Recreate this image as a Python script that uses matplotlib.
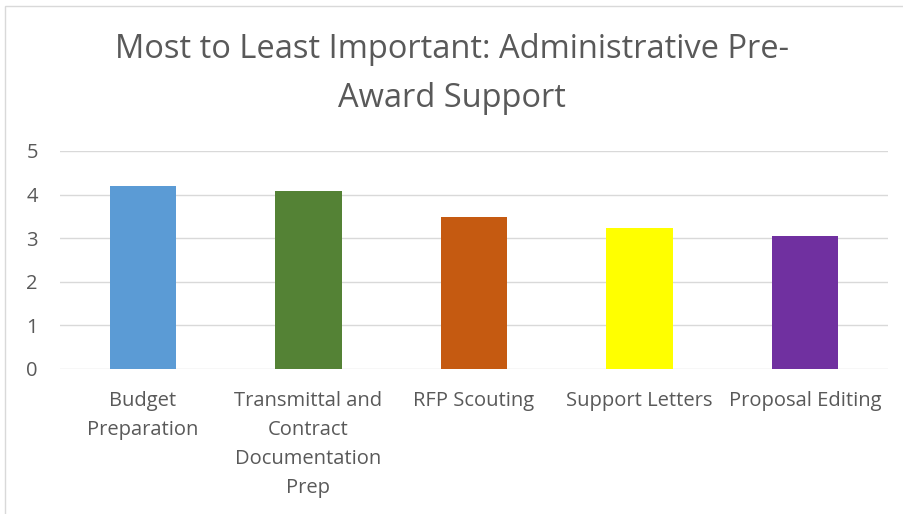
import matplotlib.pyplot as plt
from matplotlib.patches import Rectangle

categories = ["Budget\nPreparation", "Transmittal and\nContract\nDocumentation\nPrep",
              "RFP Scouting", "Support Letters", "Proposal Editing"]
scores = [4.2, 4.08, 3.48, 3.23, 3.05]
bar_colors = ["#5B9BD5", "#548235", "#C55A11", "#FFFF00", "#7030A0"]
title = "Most to Least Important: Administrative Pre-\nAward Support"

plt.rcParams['font.family'] = ['Open Sans', 'DejaVu Sans']

fig = plt.figure(figsize=(9.04, 5.14), dpi=100)
W, H = 904, 514

# outer chart border (only left and top edges visible in the crop)
fig.patches.append(Rectangle((5 / W, -0.1), 1.2, (H - 6) / H + 0.1,
                             transform=fig.transFigure, fill=False,
                             edgecolor="#d9d9d9", linewidth=1.0))

ax = fig.add_axes([60 / W, (H - 369) / H, 828 / W, 218 / H])
x = range(len(categories))
ax.bar(x, scores, width=0.4, color=bar_colors, zorder=2)

ax.set_ylim(0, 5)
ax.set_xlim(-0.5, len(categories) - 0.5)
ax.set_yticks(range(6))
ax.yaxis.grid(True, color="#d9d9d9", linewidth=1.0, zorder=0)
ax.set_xticks(list(x))
ax.set_xticklabels(categories, linespacing=1.6)
for s in ax.spines.values():
    s.set_visible(False)
ax.tick_params(axis="both", length=0, colors="#595959", labelsize=14.5)
ax.tick_params(axis="y", pad=16)
ax.tick_params(axis="x", pad=16)

fig.text(0.5, 1 - 74 / H, title, ha="center", va="center", fontsize=23.5,
         color="#595959", linespacing=1.62)

fig.savefig("out.png", dpi=100)
